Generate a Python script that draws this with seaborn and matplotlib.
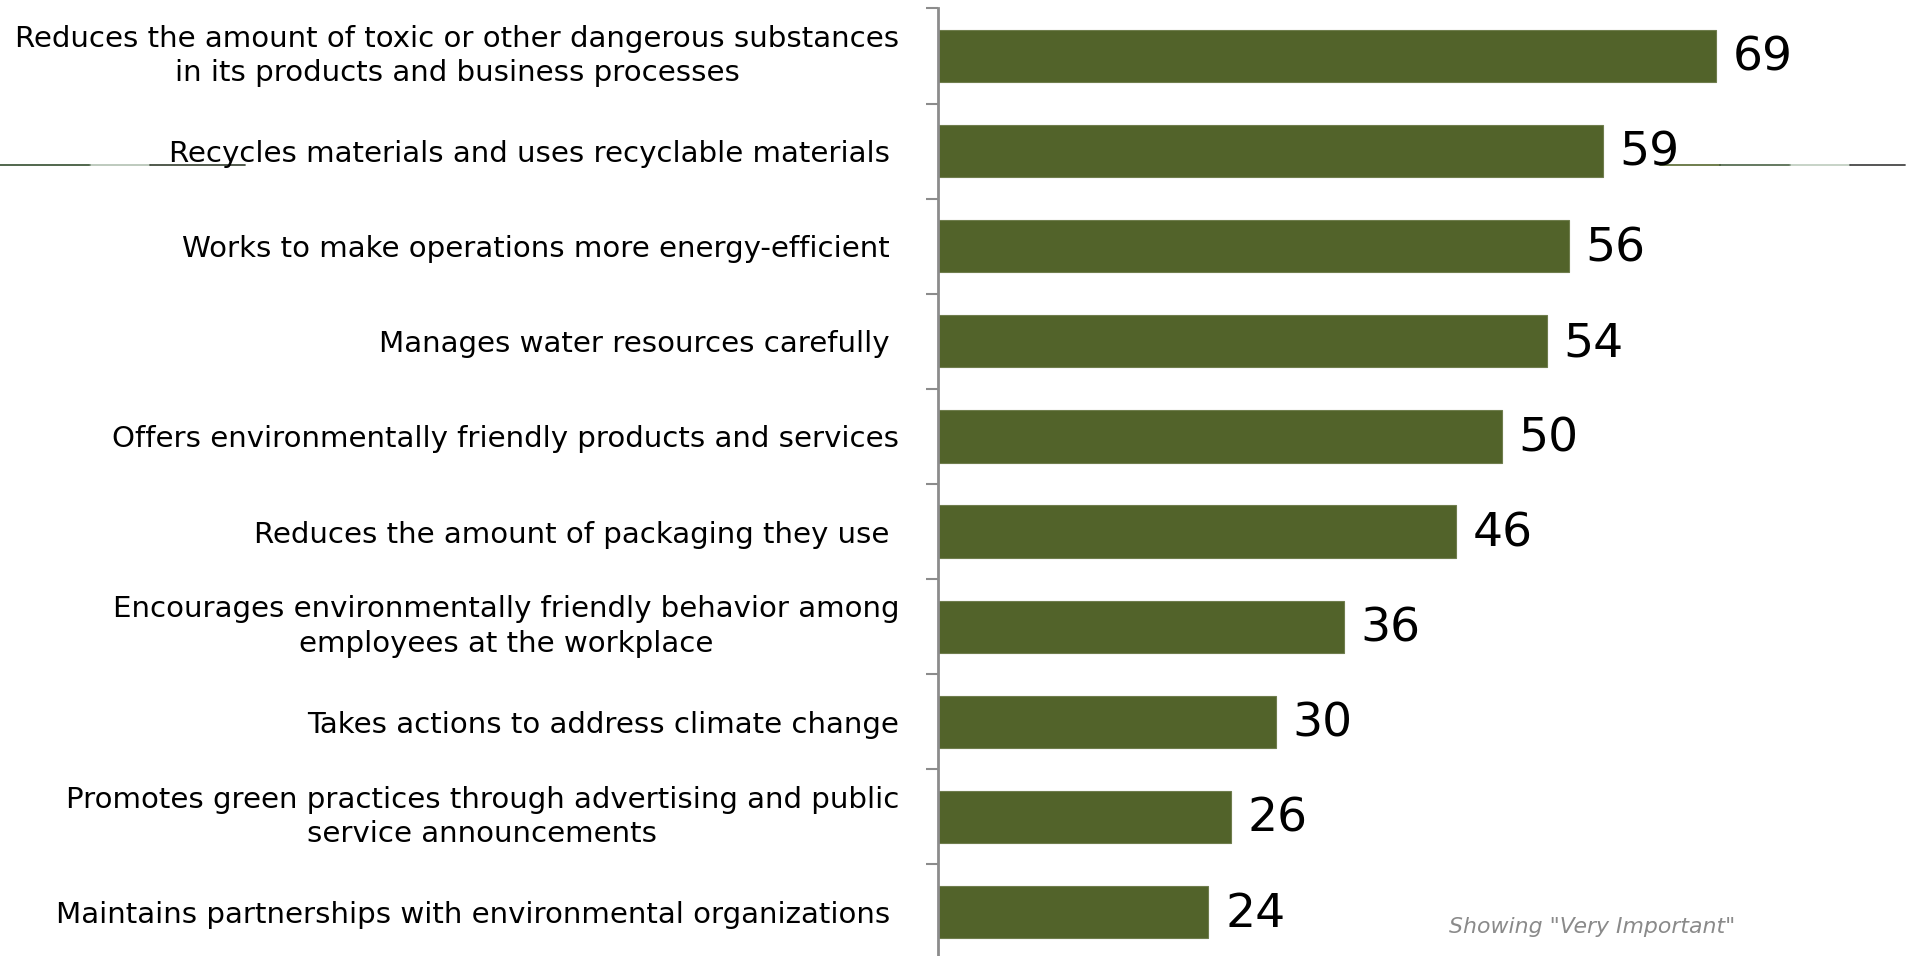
import matplotlib
matplotlib.use("Agg")
import matplotlib.pyplot as plt
import seaborn as sns
import pandas as pd
from matplotlib.lines import Line2D

categories = [
    "Reduces the amount of toxic or other dangerous substances\nin its products and business processes",
    "Recycles materials and uses recyclable materials ",
    "Works to make operations more energy-efficient ",
    "Manages water resources carefully ",
    "Offers environmentally friendly products and services",
    "Reduces the amount of packaging they use ",
    "Encourages environmentally friendly behavior among\nemployees at the workplace",
    "Takes actions to address climate change",
    "Promotes green practices through advertising and public\nservice announcements",
    "Maintains partnerships with environmental organizations ",
]
values = [69, 59, 56, 54, 50, 46, 36, 30, 26, 24]
footnote = 'Showing "Very Important"'

df = pd.DataFrame({"label": categories, "value": values})

sns.set_style("white")
plt.rcParams["font.family"] = ["DejaVu Sans"]

W, H = 1910, 956
fig = plt.figure(figsize=(W / 100, H / 100), dpi=100)

# decorative thin background line (drawn first, behind everything)
line_y = 1 - 165 / H
for x0, x1, c, a in [(0, 90, "#2f4a2a", 0.9), (90, 150, "#8aa08a", 0.6),
                     (150, 245, "#2f3a2a", 0.9),
                     (1660, 1720, "#52632A", 0.9), (1720, 1790, "#2f4a2a", 0.8),
                     (1790, 1850, "#9ab09a", 0.6), (1850, 1905, "#333333", 0.9)]:
    fig.add_artist(Line2D([x0 / W, x1 / W], [line_y, line_y], transform=fig.transFigure,
                          color=c, alpha=a, lw=1.3, zorder=0))

ax_left = 938 / W
ax_top = (H - 8.4) / H
ax_bottom = -3.6 / H
ax = fig.add_axes([ax_left, ax_bottom, 1 - ax_left, ax_top - ax_bottom])
ax.patch.set_alpha(0)

sns.barplot(data=df, y="label", x="value", orient="h", color="#52632A",
            saturation=1, width=0.55, ax=ax, edgecolor="#6f7d4d", linewidth=0.8)

ax.set_xlim(0, (W - 938) / 11.27)
ax.set_ylim(len(categories) - 0.5, -0.5)
ax.set_xlabel("")
ax.set_ylabel("")
ax.set_xticks([])

for s in ["top", "right", "bottom"]:
    ax.spines[s].set_visible(False)
ax.spines["left"].set_color("#8c8c8c")
ax.spines["left"].set_linewidth(2)

ax.set_yticks(range(len(categories)))
ax.set_yticklabels(categories, fontsize=21.1, color="black")
for lab in ax.get_yticklabels():
    lab.set_multialignment("center")
    lab.set_linespacing(1.3)
    if "\n" in lab.get_text():
        lab.set_va("center")
ax.tick_params(axis="y", which="major", length=0, pad=28)
ax.set_yticks([i - 0.5 for i in range(len(categories) + 1)], minor=True)
ax.tick_params(axis="y", which="minor", length=9, width=1.5, color="#8c8c8c", left=True)

for i, v in enumerate(values):
    ax.annotate(str(v), xy=(v, i), xytext=(12, -1.7), textcoords="offset points",
                ha="left", va="center", fontsize=34, color="black")

fig.text(1449 / W, 1 - 927 / H, footnote, fontsize=15.8, style="italic",
         color="#8a8a8a", ha="left", va="center")

fig.savefig("out.png", dpi=100)
